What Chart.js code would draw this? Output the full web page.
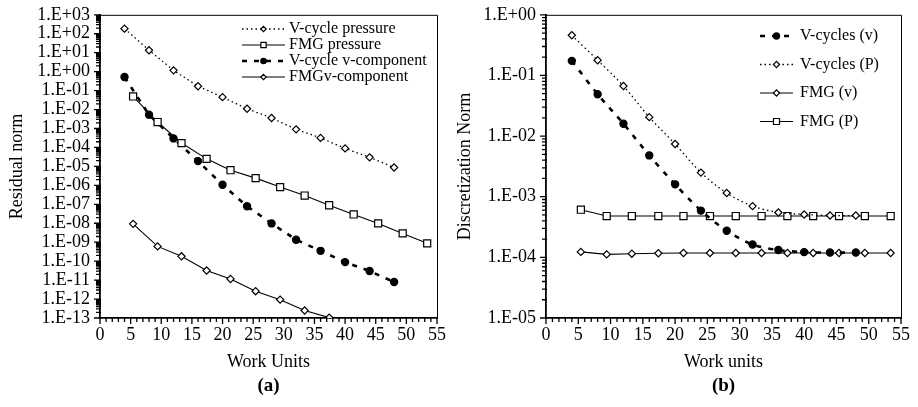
<!DOCTYPE html>
<html>
<head>
<meta charset="utf-8">
<title>Residual and discretization norms</title>
<script src="https://cdn.jsdelivr.net/npm/chart.js@4.4.1/dist/chart.umd.min.js"></script>
<style>
    html, body { margin: 0; padding: 0; background: #fff; }
    body { width: 918px; height: 407px; position: relative; overflow: hidden; }
    .panel { position: absolute; top: 0; height: 407px; }
    #panelA { left: 0; width: 452px; }
    #panelB { left: 452px; width: 466px; }
</style>
</head>
<body>
<div class="panel" id="panelA"><canvas id="chartA" width="452" height="407"></canvas></div>
<div class="panel" id="panelB"><canvas id="chartB" width="466" height="407"></canvas></div>
<script>
// shared x axis
const workTicks = ['0', '5', '10', '15', '20', '25', '30', '35', '40', '45', '50', '55'];
const vCycleWork = [4, 8, 12, 16, 20, 24, 28, 32, 36, 40, 44, 48];
const fmgWork = [5.4, 9.4, 13.3, 17.4, 21.3, 25.4, 29.4, 33.4, 37.4, 41.4, 45.4, 49.4, 53.4];

// (a) residual norm
const residualTicks = ['1.E+03', '1.E+02', '1.E+01', '1.E+00', '1.E-01', '1.E-02', '1.E-03', '1.E-04',
    '1.E-05', '1.E-06', '1.E-07', '1.E-08', '1.E-09', '1.E-10', '1.E-11', '1.E-12', '1.E-13'];
const vCyclePressure = [186, 13.5, 1.17, 0.17, 0.045, 0.011, 0.0036, 9e-4, 3.2e-4, 8.9e-5, 3e-5, 8.7e-6];
const fmgPressure = [0.049, 2.2e-3, 1.7e-4, 2.5e-5, 6.3e-6, 2.4e-6, 8.1e-7, 2.9e-7, 8.9e-8, 2.9e-8, 9.8e-9, 2.9e-9, 8.7e-10];
const vCycleVComp = [0.52, 5.3e-3, 3e-4, 1.9e-5, 1.07e-6, 7.9e-8, 9.8e-9, 1.35e-9, 3.5e-10, 8.9e-11, 3e-11, 7.9e-12];
const fmgVComp = [9.3e-9, 6e-10, 1.8e-10, 3.2e-11, 1.15e-11, 2.6e-12, 9.3e-13, 2.5e-13, 1.05e-13];

// (b) discretization norm
const discTicks = ['1.E+00', '1.E-01', '1.E-02', '1.E-03', '1.E-04', '1.E-05'];
const discVCyclesV = [0.174, 0.049, 0.016, 4.8e-3, 1.6e-3, 5.9e-4, 2.75e-4, 1.63e-4, 1.32e-4, 1.22e-4, 1.2e-4, 1.2e-4];
const discVCyclesP = [0.46, 0.178, 0.067, 0.0205, 7.4e-3, 2.5e-3, 1.15e-3, 7e-4, 5.5e-4, 5.1e-4, 4.9e-4, 4.9e-4];
const discFmgV = [1.23e-4, 1.12e-4, 1.15e-4, 1.17e-4, 1.18e-4, 1.18e-4, 1.18e-4, 1.18e-4, 1.18e-4, 1.18e-4, 1.18e-4, 1.18e-4, 1.18e-4];
const discFmgP = [6.1e-4, 4.8e-4, 4.8e-4, 4.8e-4, 4.8e-4, 4.8e-4, 4.8e-4, 4.8e-4, 4.8e-4, 4.8e-4, 4.8e-4, 4.8e-4, 4.8e-4];

(() => {
    const SERIF = '"Liberation Serif", "Times New Roman", Times, serif';
    Chart.defaults.font.family = SERIF;
    Chart.defaults.color = '#000';

    function points(xs, ys) {
        return ys.map((y, i) => ({ x: xs[i], y }));
    }

    function logTickValues(labels) {
        const majors = labels.map(Number).sort((a, b) => a - b);
        const values = [];
        majors.forEach((m, i) => {
            values.push(m);
            if (i === majors.length - 1) return;
            for (let k = 2; k <= 9; k++) values.push(k * m);
        });
        return values;
    }

    function logLabel(labels) {
        return (value) => {
            const hit = labels.find(l => Math.abs(Math.log10(Number(l)) - Math.log10(value)) < 1e-6);
            return hit || '';
        };
    }

    function workTickValues() {
        const last = Number(workTicks[workTicks.length - 1]);
        const values = [];
        for (let v = 0; v <= last; v++) values.push(v);
        return values;
    }

    const DOTTED = { borderDash: [1.5, 3], borderWidth: 1.3 };
    const DASHED = { borderDash: [5, 7], borderWidth: 2.6 };
    const SOLID = { borderDash: [], borderWidth: 1.1 };
    const DIAMOND = { pointStyle: 'rectRot', pointRadius: 3.6, pointBackgroundColor: '#fff' };
    const SQUARE = { pointStyle: 'rect', pointRadius: 5, pointBackgroundColor: '#fff' };
    const DOT = { pointStyle: 'circle', pointRadius: 3.6, pointBackgroundColor: '#000' };

    function series(label, xs, ys, line, marker, extra) {
        return Object.assign({
            label,
            data: points(xs, ys),
            borderColor: '#000',
            pointBorderColor: '#000',
            pointBorderWidth: 1.2,
            pointHoverRadius: 0,
            tension: 0,
            fill: false
        }, line, marker, extra || {});
    }

    function drawMarker(ctx, ds, x, y, scale) {
        const r = ds.pointRadius * scale;
        ctx.lineWidth = ds.pointBorderWidth;
        ctx.fillStyle = ds.pointBackgroundColor;
        ctx.strokeStyle = '#000';
        ctx.beginPath();
        if (ds.pointStyle === 'rect') {
            const s = r * Math.SQRT1_2;
            ctx.rect(x - s, y - s, 2 * s, 2 * s);
        } else if (ds.pointStyle === 'rectRot') {
            ctx.moveTo(x, y - r);
            ctx.lineTo(x + r, y);
            ctx.lineTo(x, y + r);
            ctx.lineTo(x - r, y);
            ctx.closePath();
        } else {
            ctx.arc(x, y, r, 0, Math.PI * 2);
        }
        ctx.fill();
        ctx.stroke();
    }

    // legend with line sample + marker, like the spreadsheet legend
    const lineLegend = {
        id: 'lineLegend',
        afterDatasetsDraw(chart, args, opts) {
            const ctx = chart.ctx;
            ctx.save();
            ctx.font = `${opts.fontSize}px ${SERIF}`;
            ctx.textBaseline = 'middle';
            chart.data.datasets.forEach((ds, i) => {
                const y = opts.y + i * opts.rowHeight;
                ctx.strokeStyle = '#000';
                ctx.lineWidth = ds.borderWidth;
                ctx.setLineDash(ds.borderDash || []);
                ctx.beginPath();
                ctx.moveTo(opts.x, y);
                ctx.lineTo(opts.x + opts.lineLength, y);
                ctx.stroke();
                ctx.setLineDash([]);
                drawMarker(ctx, ds, opts.x + opts.lineLength / 2, y, opts.markerScale);
                ctx.fillStyle = '#000';
                ctx.fillText(ds.label, opts.x + opts.lineLength + opts.gap, y);
            });
            ctx.restore();
        }
    };

    // top/right frame plus the major/minor tick marks along both axes
    const plotFrame = {
        id: 'plotFrame',
        afterDraw(chart, args, opts) {
            const { left, top, right, bottom } = chart.chartArea;
            const xScale = chart.scales.x;
            const yScale = chart.scales.y;
            const ctx = chart.ctx;
            ctx.save();
            ctx.strokeStyle = '#000';
            ctx.lineWidth = 1;
            ctx.beginPath();
            ctx.moveTo(left, top + 0.5);
            ctx.lineTo(right + 0.5, top + 0.5);
            ctx.lineTo(right + 0.5, bottom);
            ctx.stroke();

            ctx.lineWidth = opts.tickWidth;
            ctx.beginPath();
            yScale.ticks.forEach(t => {
                const py = yScale.getPixelForValue(t.value);
                const len = t.label ? opts.major : opts.minor;
                ctx.moveTo(left - len, py);
                ctx.lineTo(left + 1, py);
            });
            xScale.ticks.forEach(t => {
                const px = xScale.getPixelForValue(t.value);
                const len = t.label ? opts.major : opts.minor;
                ctx.moveTo(px, bottom - 1);
                ctx.lineTo(px, bottom + len);
            });
            ctx.stroke();
            ctx.restore();
        }
    };

    const panelLabel = {
        id: 'panelLabel',
        afterDraw(chart, args, opts) {
            const { left, right } = chart.chartArea;
            const ctx = chart.ctx;
            ctx.save();
            ctx.font = `bold ${opts.fontSize}px ${SERIF}`;
            ctx.fillStyle = '#000';
            ctx.textAlign = 'center';
            ctx.textBaseline = 'middle';
            ctx.fillText(opts.text, (left + right) / 2, opts.y);
            ctx.restore();
        }
    };

    function logAxis(labels, title, axisWidth, titlePad) {
        return {
            type: 'logarithmic',
            min: Number(labels[labels.length - 1]),
            max: Number(labels[0]),
            afterBuildTicks: (axis) => { axis.ticks = logTickValues(labels).map(value => ({ value })); },
            afterFit: (axis) => { axis.width = axisWidth; },
            ticks: { autoSkip: false, padding: 4, font: { size: 18 }, color: '#000', callback: logLabel(labels) },
            grid: { display: false, drawTicks: true, tickLength: 6 },
            border: { display: true, color: '#000', width: 1.8 },
            title: { display: true, text: title, font: { size: 18 }, color: '#000', padding: { top: titlePad, bottom: 0 } }
        };
    }

    function workAxis(title) {
        return {
            type: 'linear',
            min: 0,
            max: Number(workTicks[workTicks.length - 1]),
            afterBuildTicks: (axis) => { axis.ticks = workTickValues().map(value => ({ value })); },
            afterFit: (axis) => { axis.height = 89; },
            ticks: {
                autoSkip: false, maxRotation: 0, padding: 1, font: { size: 18 }, color: '#000',
                callback: (v) => workTicks.includes(String(v)) ? String(v) : ''
            },
            grid: { display: false, drawTicks: true, tickLength: 5 },
            border: { display: true, color: '#000', width: 1.8 },
            title: { display: true, text: title, font: { size: 18 }, color: '#000', padding: { top: 0, bottom: 34 } }
        };
    }

    function baseOptions(padding, legendOpts, label, yAxis, xTitle) {
        return {
            responsive: false,
            animation: false,
            devicePixelRatio: 1,
            layout: { padding },
            scales: { x: workAxis(xTitle), y: yAxis },
            plugins: {
                legend: { display: false },
                tooltip: { enabled: false },
                lineLegend: legendOpts,
                plotFrame: { major: 6, minor: 4, tickWidth: 1.3 },
                panelLabel: { text: label, y: 386, fontSize: 19 }
            }
        };
    }

    new Chart(document.getElementById('chartA'), {
        type: 'line',
        data: {
            datasets: [
                series('V-cycle pressure', vCycleWork, vCyclePressure, DOTTED, DIAMOND),
                series('FMG pressure', fmgWork, fmgPressure, SOLID, SQUARE),
                series('V-cycle v-component', vCycleWork, vCycleVComp, DASHED, DOT),
                series('FMGv-component', fmgWork, fmgVComp, SOLID, DIAMOND)
            ]
        },
        options: baseOptions(
            { top: 12, right: 15, left: 0, bottom: 0 },
            { x: 242, y: 29, rowHeight: 16, lineLength: 43, gap: 4, fontSize: 16, markerScale: 0.75 },
            '(a)',
            logAxis(residualTicks, 'Residual norm', 100, 6),
            'Work Units'
        ),
        plugins: [lineLegend, plotFrame, panelLabel]
    });

    new Chart(document.getElementById('chartB'), {
        type: 'line',
        data: {
            datasets: [
                series('V-cycles (v)', vCycleWork, discVCyclesV, DASHED, DOT, { tension: 0.3 }),
                series('V-cycles (P)', vCycleWork, discVCyclesP, DOTTED, DIAMOND, { tension: 0.3 }),
                series('FMG (v)', fmgWork, discFmgV, SOLID, DIAMOND),
                series('FMG (P)', fmgWork, discFmgP, SOLID, SQUARE)
            ]
        },
        options: baseOptions(
            { top: 11, right: 17, left: 0, bottom: 0 },
            { x: 308, y: 36, rowHeight: 28.5, lineLength: 33, gap: 7, fontSize: 16, markerScale: 0.85 },
            '(b)',
            logAxis(discTicks, 'Discretization Norm', 94, 2),
            'Work units'
        ),
        plugins: [lineLegend, plotFrame, panelLabel]
    });
})();
</script>
</body>
</html>
